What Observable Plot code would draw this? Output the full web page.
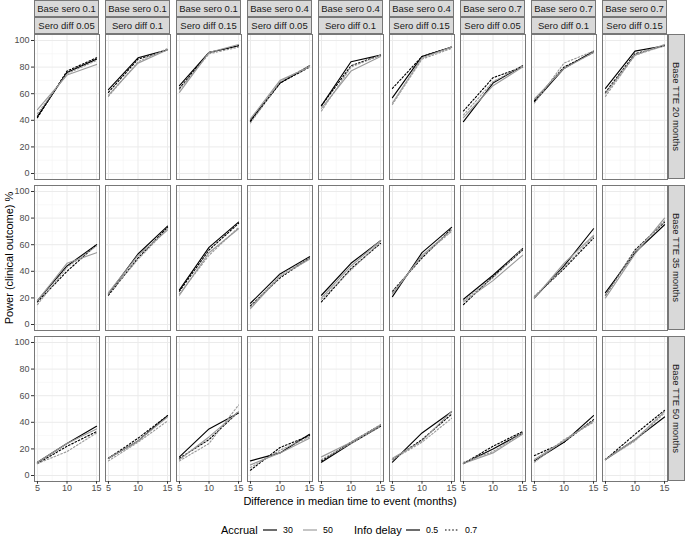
<!DOCTYPE html>
<html><head><meta charset="utf-8">
<script src="https://cdn.jsdelivr.net/npm/d3@7"></script>
<script src="https://cdn.jsdelivr.net/npm/@observablehq/plot@0.6"></script>
<style>
body{margin:0;background:#fff;font-family:"Liberation Sans",Arial,sans-serif;}
#chart{position:relative;width:685px;height:537px;overflow:hidden;background:#fff;}
#chart svg{position:absolute;}
.strip{position:absolute;box-sizing:border-box;background:#d9d9d9;border:1px solid #777;color:#1a1a1a;font-size:9.5px;display:flex;align-items:center;justify-content:center;white-space:nowrap;}
.vstrip{writing-mode:vertical-rl;}
.abs{position:absolute;white-space:nowrap;color:#000;}
</style></head><body><div id="chart"></div>
<script>
// ---- data ----
const baseSeroLevels = ["0.1", "0.4", "0.7"];
const seroDiffLevels = ["0.05", "0.1", "0.15"];
const baseTTELevels = [20, 35, 50];
const diffMonths = [5, 10, 15];
const accrualLevels = ["30", "50"];
const delayLevels = ["0.5", "0.7"];
const yTicks = [0, 20, 40, 60, 80, 100];
const yMinor = [10, 30, 50, 70, 90];
const xTicks = [5, 10, 15];
const xMinor = [7.5, 12.5];

// columns: (0.1,0.05) (0.1,0.1) (0.1,0.15) (0.4,0.05) (0.4,0.1) (0.4,0.15) (0.7,0.05) (0.7,0.1) (0.7,0.15)
const tte20_acc30_del05 = [[43,76,86],[63,87,93],[66,91,96],[40,68,81],[51,84,89],[57,88,95],[39,68,81],[54,79,92],[64,92,96]];
const tte20_acc30_del07 = [[42,77,87],[61,86,93],[64,91,96],[39,68,80],[51,81,89],[64,88,95],[47,72,80],[55,80,91],[61,90,96]];
const tte20_acc50_del05 = [[48,74,82],[59,83,93],[61,91,97],[41,70,80],[49,77,88],[53,87,95],[42,66,80],[56,79,91],[60,89,97]];
const tte20_acc50_del07 = [[45,75,85],[58,84,94],[63,90,95],[38,69,81],[47,80,89],[52,86,94],[44,69,81],[53,83,92],[58,89,96]];

const tte35_acc30_del05 = [[18,44,60],[23,53,74],[26,58,77],[16,38,51],[22,46,63],[21,54,73],[19,37,57],[20,44,72],[24,54,75]];
const tte35_acc30_del07 = [[17,40,60],[22,50,73],[25,56,76],[14,35,50],[17,42,61],[25,50,72],[15,36,56],[21,42,65],[22,56,77]];
const tte35_acc50_del05 = [[18,46,54],[24,52,71],[22,54,72],[12,36,49],[20,44,63],[23,52,71],[17,33,52],[20,46,67],[20,53,80]];
const tte35_acc50_del07 = [[15,43,59],[23,49,72],[23,52,73],[13,37,50],[19,41,62],[24,51,70],[18,35,57],[21,43,66],[22,55,78]];

const tte50_acc30_del05 = [[10,24,37],[13,26,45],[14,35,47],[11,17,31],[10,24,37],[10,32,48],[9,20,32],[11,25,45],[12,27,44]];
const tte50_acc30_del07 = [[9,22,33],[13,28,45],[13,27,48],[4,21,30],[11,25,38],[12,27,46],[9,22,33],[15,25,42],[12,31,49]];
const tte50_acc50_del05 = [[10,24,35],[13,26,44],[12,29,48],[8,17,28],[14,25,38],[13,26,48],[9,17,31],[12,26,41],[12,27,48]];
const tte50_acc50_del07 = [[9,18,32],[11,25,41],[11,24,53],[6,19,29],[12,24,37],[12,25,43],[10,18,32],[10,27,40],[12,26,47]];

const seriesByTTE = {
  20: {"30|0.5": tte20_acc30_del05, "30|0.7": tte20_acc30_del07, "50|0.5": tte20_acc50_del05, "50|0.7": tte20_acc50_del07},
  35: {"30|0.5": tte35_acc30_del05, "30|0.7": tte35_acc30_del07, "50|0.5": tte35_acc50_del05, "50|0.7": tte35_acc50_del07},
  50: {"30|0.5": tte50_acc30_del05, "30|0.7": tte50_acc30_del07, "50|0.5": tte50_acc50_del05, "50|0.7": tte50_acc50_del07}
};

// ---- styles ----
const accColor = {"30": "#000000", "50": "#9a9a9a"};
const delayDash = {"0.5": null, "0.7": "1.6,2"};

// ---- layout ----
const PL = 34, PW = 65, COLSTEP = 71, PT = 34, PH = 145, ROWSTEP = 151;
const chartDiv = document.getElementById("chart");
const font = "Liberation Sans, Arial, sans-serif";

const columns = [];
baseSeroLevels.forEach(b => seroDiffLevels.forEach(d => columns.push({base: b, diff: d})));

baseTTELevels.forEach((tte, r) => {
  columns.forEach((col, c) => {
    const ml = c === 0 ? PL : 0;
    const mb = r === baseTTELevels.length - 1 ? 20 : 0;
    const lineMarks = [];
    accrualLevels.forEach(acc => delayLevels.forEach(del => {
      const vals = seriesByTTE[tte][acc + "|" + del][c];
      const data = diffMonths.map((x, i) => ({x, y: vals[i]}));
      const opts = {x: "x", y: "y", stroke: accColor[acc], strokeWidth: 1.15};
      if (delayDash[del]) opts.strokeDasharray = delayDash[del];
      lineMarks.push(Plot.line(data, opts));
    }));
    const marks = [
      Plot.frame({fill: "white", stroke: null}),
      Plot.gridY(yMinor, {stroke: "#f3f3f3", strokeOpacity: 1, strokeWidth: 0.6}),
      Plot.gridX(xMinor, {stroke: "#f3f3f3", strokeOpacity: 1, strokeWidth: 0.6}),
      Plot.gridY(yTicks, {stroke: "#ebebeb", strokeOpacity: 1, strokeWidth: 1}),
      Plot.gridX(xTicks, {stroke: "#ebebeb", strokeOpacity: 1, strokeWidth: 1}),
      ...lineMarks,
      Plot.frame({stroke: "#777", strokeWidth: 1})
    ];
    if (c === 0) marks.push(Plot.axisY(yTicks, {tickSize: 3, tickPadding: 2, fontSize: 9, stroke: "#333", fill: "#4d4d4d", label: null}));
    if (mb) marks.push(Plot.axisX(xTicks, {tickSize: 2.75, tickPadding: 0.5, fontSize: 9, stroke: "#333", fill: "#4d4d4d", label: null}));
    const p = Plot.plot({
      width: PW + ml, height: PH + mb,
      marginLeft: ml, marginRight: 0, marginTop: 0, marginBottom: mb,
      style: {background: "transparent", overflow: "visible", fontFamily: font},
      x: {domain: [4.5, 15.5], axis: null},
      y: {domain: [-4.5, 104.5], axis: null},
      marks
    });
    p.style.left = (c === 0 ? 0 : PL + c * COLSTEP) + "px";
    p.style.top = (PT + r * ROWSTEP) + "px";
    chartDiv.appendChild(p);
  });
});

// top strips
columns.forEach((col, c) => {
  const x = PL + c * COLSTEP;
  const s1 = document.createElement("div");
  s1.className = "strip";
  Object.assign(s1.style, {left: x + "px", top: "0px", width: PW + "px", height: "17px"});
  s1.textContent = "Base sero " + col.base;
  chartDiv.appendChild(s1);
  const s2 = document.createElement("div");
  s2.className = "strip";
  Object.assign(s2.style, {left: x + "px", top: "17px", width: PW + "px", height: "17px"});
  s2.textContent = "Sero diff " + col.diff;
  chartDiv.appendChild(s2);
});
// right strips
baseTTELevels.forEach((tte, r) => {
  const s = document.createElement("div");
  s.className = "strip vstrip";
  Object.assign(s.style, {left: "668px", top: (PT + r * ROWSTEP) + "px", width: "17px", height: PH + "px"});
  s.textContent = "Base TTE " + tte + " months";
  chartDiv.appendChild(s);
});

// axis titles
const yt = document.createElement("div");
yt.className = "abs";
Object.assign(yt.style, {left: "9px", top: "258px", fontSize: "11px", transform: "translate(-50%,-50%) rotate(-90deg)"});
yt.textContent = "Power (clinical outcome) %";
chartDiv.appendChild(yt);
const xt = document.createElement("div");
xt.className = "abs";
Object.assign(xt.style, {left: "350px", top: "501px", fontSize: "11px", transform: "translate(-50%,-50%)"});
xt.textContent = "Difference in median time to event (months)";
chartDiv.appendChild(xt);

// legend
const lg = d3.create("svg").attr("width", 685).attr("height", 20).style("left", "0px").style("top", "520px")
  .style("font-family", font);
const ly = 10;
lg.append("text").attr("x", 221).attr("y", ly).attr("dy", "0.35em").attr("font-size", 11).text("Accrual");
const accX = [263, 303];
accrualLevels.forEach((a, i) => {
  lg.append("line").attr("x1", accX[i]).attr("x2", accX[i] + 14).attr("y1", ly).attr("y2", ly).attr("stroke", accColor[a]).attr("stroke-width", 1.15);
  lg.append("text").attr("x", accX[i] + 20).attr("y", ly).attr("dy", "0.35em").attr("font-size", 8.8).attr("fill", "#000").text(a);
});
lg.append("text").attr("x", 354).attr("y", ly).attr("dy", "0.35em").attr("font-size", 11).text("Info delay");
const delX = [406, 445];
delayLevels.forEach((d, i) => {
  const l = lg.append("line").attr("x1", delX[i]).attr("x2", delX[i] + 14).attr("y1", ly).attr("y2", ly).attr("stroke", "#000").attr("stroke-width", 1.15);
  if (delayDash[d]) l.attr("stroke-dasharray", delayDash[d]);
  lg.append("text").attr("x", delX[i] + 20).attr("y", ly).attr("dy", "0.35em").attr("font-size", 8.8).text(d);
});
chartDiv.appendChild(lg.node());
</script>
</body></html>
